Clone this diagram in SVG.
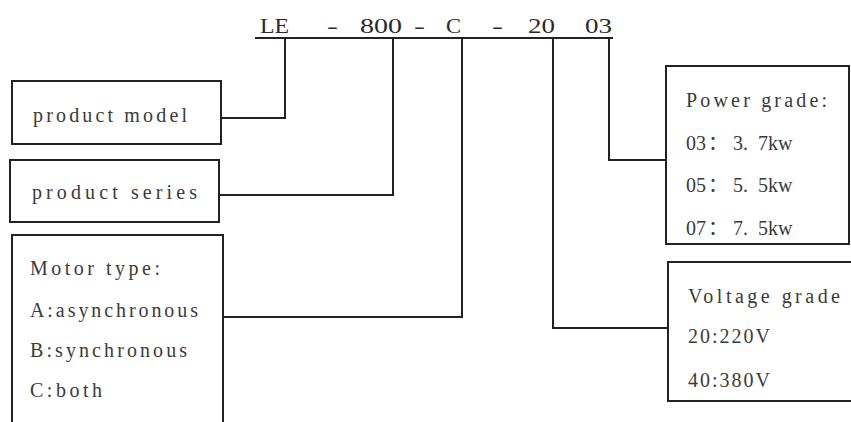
<svg xmlns="http://www.w3.org/2000/svg" width="851" height="422" viewBox="0 0 851 422">
<style>
.box{fill:#fff;stroke:#222;stroke-width:2}
.t{font-family:"Liberation Serif","Noto Sans CJK SC",serif;font-size:20px;fill:#3a3a3a}
.code{font-family:"Liberation Serif","Noto Sans CJK SC",serif;font-size:21px;fill:#2a2a2a}
.ln{fill:none;stroke:#222;stroke-width:2}
</style>
<rect width="851" height="422" fill="#fff"/>
<g id="code">
<line class="ln" x1="255" y1="38" x2="613" y2="38"/>
<text class="code" x="260" y="33" textLength="29" lengthAdjust="spacingAndGlyphs">LE</text>
<text class="code" x="327" y="33" textLength="11" lengthAdjust="spacingAndGlyphs">-</text>
<text class="code" x="360" y="33" textLength="42" lengthAdjust="spacingAndGlyphs">800</text>
<text class="code" x="414" y="33" textLength="11" lengthAdjust="spacingAndGlyphs">-</text>
<text class="code" x="446" y="33" textLength="15" lengthAdjust="spacingAndGlyphs">C</text>
<text class="code" x="492" y="33" textLength="11" lengthAdjust="spacingAndGlyphs">-</text>
<text class="code" x="528" y="33" textLength="27" lengthAdjust="spacingAndGlyphs">20</text>
<text class="code" x="585" y="33" textLength="27" lengthAdjust="spacingAndGlyphs">03</text>
</g>
<g id="connectors">
<path class="ln" d="M221,118 H285 V38"/>
<path class="ln" d="M219,195 H393 V38"/>
<path class="ln" d="M223,317 H462 V38"/>
<path class="ln" d="M609,38 V160 H666"/>
<path class="ln" d="M553,38 V328 H668"/>
</g>
<g id="product-model">
<rect class="box" x="12" y="81" width="209" height="63"/>
<text class="t" x="33" y="122" textLength="154" lengthAdjust="spacing">product model</text>
</g>
<g id="product-series">
<rect class="box" x="10" y="160" width="209" height="62"/>
<text class="t" x="32" y="199" textLength="165" lengthAdjust="spacing">product series</text>
</g>
<g id="motor-type">
<rect class="box" x="12" y="235" width="211" height="200"/>
<text class="t" x="30" y="275" textLength="130" lengthAdjust="spacing">Motor type:</text>
<text class="t" x="30" y="317" textLength="168" lengthAdjust="spacing">A:asynchronous</text>
<text class="t" x="30" y="357" textLength="157" lengthAdjust="spacing">B:synchronous</text>
<text class="t" x="30" y="397" textLength="72" lengthAdjust="spacing">C:both</text>
</g>
<g id="power-grade">
<rect class="box" x="666" y="66" width="183" height="178"/>
<text class="t" x="686" y="107" textLength="141" lengthAdjust="spacing">Power grade:</text>
<text class="t" y="150"><tspan x="686">03</tspan><tspan x="708">：</tspan><tspan x="733">3.</tspan><tspan x="758">7kw</tspan></text>
<text class="t" y="192"><tspan x="686">05</tspan><tspan x="708">：</tspan><tspan x="733">5.</tspan><tspan x="758">5kw</tspan></text>
<text class="t" y="235"><tspan x="686">07</tspan><tspan x="708">：</tspan><tspan x="733">7.</tspan><tspan x="758">5kw</tspan></text>
</g>
<g id="voltage-grade">
<rect class="box" x="668" y="262" width="190" height="139"/>
<text class="t" x="688" y="303" textLength="152" lengthAdjust="spacing">Voltage grade</text>
<text class="t" x="688" y="343" textLength="82" lengthAdjust="spacing">20:220V</text>
<text class="t" x="688" y="387" textLength="82" lengthAdjust="spacing">40:380V</text>
</g>
</svg>
